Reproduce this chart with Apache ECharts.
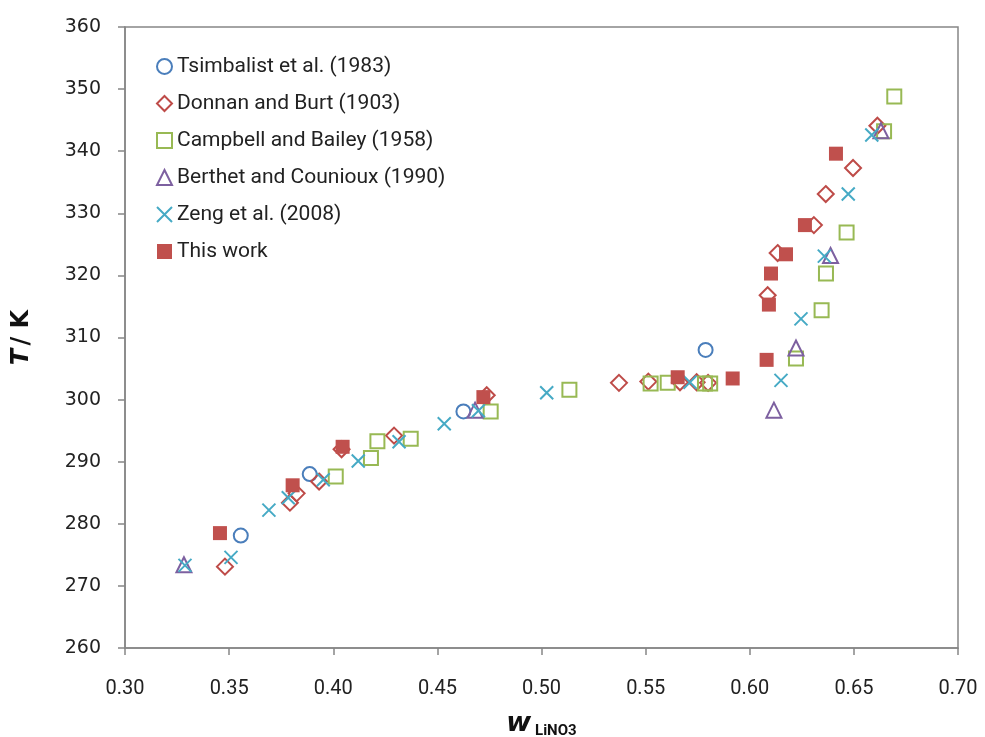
<!DOCTYPE html>
<html>
<head>
<meta charset="utf-8">
<script src="https://cdn.jsdelivr.net/npm/echarts@6/dist/echarts.min.js"></script>
<style>
  html, body { margin: 0; padding: 0; background: #fff; }
  #chart { width: 985px; height: 737px; }
</style>
</head>
<body>
<div id="chart"></div>
<script>
// w(LiNO3), T/K pairs
var tsimbalist = [[0.3556, 278.1], [0.3887, 288.0], [0.4625, 298.1], [0.5788, 308.0]];
var donnan = [[0.348, 273.1], [0.3792, 283.4], [0.3824, 284.9], [0.3932, 286.8], [0.4040, 292.0],
  [0.4292, 294.2], [0.4737, 300.7], [0.5372, 302.7], [0.5513, 302.9], [0.5665, 302.8],
  [0.5745, 302.8], [0.5800, 302.7], [0.6086, 316.8], [0.6134, 323.6], [0.6308, 328.1],
  [0.6365, 333.1], [0.6496, 337.3], [0.6613, 344.1]];
var campbell = [[0.4012, 287.6], [0.4181, 290.6], [0.4212, 293.3], [0.4372, 293.7], [0.4756, 298.1],
  [0.5134, 301.6], [0.5524, 302.6], [0.5606, 302.7], [0.5785, 302.6], [0.5810, 302.6],
  [0.6222, 306.6], [0.6345, 314.4], [0.6366, 320.3], [0.6465, 326.9], [0.6645, 343.2], [0.6694, 348.8]];
var berthet = [[0.3283, 273.4], [0.4681, 298.3], [0.6116, 298.3], [0.6222, 308.3], [0.6388, 323.2], [0.6630, 343.3]];
var zeng = [[0.3288, 273.3], [0.3509, 274.6], [0.3691, 282.2], [0.3784, 284.2], [0.3952, 287.1],
  [0.4120, 290.1], [0.4316, 293.2], [0.4533, 296.1], [0.4697, 298.2], [0.5025, 301.1],
  [0.5713, 302.8], [0.6150, 303.1], [0.6246, 313.0], [0.6358, 323.1], [0.6473, 333.1], [0.6586, 342.6]];
var thisWork = [[0.3456, 278.5], [0.3805, 286.2], [0.4045, 292.4], [0.4721, 300.4], [0.5654, 303.6],
  [0.5918, 303.4], [0.6081, 306.4], [0.6092, 315.3], [0.6102, 320.3], [0.6174, 323.4],
  [0.6265, 328.1], [0.6414, 339.6]];

var xTicks = { min: 0.30, max: 0.70, step: 0.05 };
var yTicks = { min: 260, max: 360, step: 10 };

var chart = echarts.init(document.getElementById('chart'));
var axisGray = '#868686';
var crossPath = 'path://M0,0L10,10M10,0L0,10';

function hollow(name, data, symbol, color, size) {
  return {
    name: name,
    type: 'scatter',
    data: data,
    symbol: symbol,
    symbolSize: size,
    itemStyle: { color: 'rgba(255,255,255,0)', borderColor: color, borderWidth: 2, opacity: 1 }
  };
}

var option = {
  animation: false,
  grid: {
    left: 125, right: 27, top: 27, bottom: 89,
    outerBoundsMode: 'none',
    show: true, borderColor: axisGray, borderWidth: 1.5, backgroundColor: 'transparent'
  },
  legend: {
    orient: 'vertical',
    left: 151, top: 51,
    itemWidth: 15, itemHeight: 15, itemGap: 16,
    textStyle: { fontFamily: 'Roboto', fontSize: 21, color: '#222' },
    data: ['Tsimbalist et al. (1983)', 'Donnan and Burt (1903)', 'Campbell and Bailey (1958)',
      'Berthet and Counioux (1990)', 'Zeng et al. (2008)', 'This work']
  },
  xAxis: {
    type: 'value',
    min: xTicks.min, max: xTicks.max, interval: xTicks.step,
    splitLine: { show: false },
    axisLine: { onZero: false, lineStyle: { color: axisGray, width: 1.5 } },
    axisTick: { length: 7, lineStyle: { color: axisGray, width: 1.5 } },
    axisLabel: {
      margin: 31, fontSize: 20, color: '#222', fontFamily: 'Liberation Sans Narrow, Roboto',
      formatter: function (v) { return v.toFixed(2); }
    },
    name: '{w|w}{s| LiNO3}',
    nameLocation: 'middle',
    nameGap: 60,
    nameTextStyle: {
      rich: {
        w: { fontSize: 27, fontWeight: 'bold', fontStyle: 'italic', color: '#111', fontFamily: 'DejaVu Sans' },
        s: { fontSize: 15, fontWeight: 'bold', color: '#111', fontFamily: 'Roboto', padding: [16, 0, 0, 0] }
      }
    }
  },
  yAxis: {
    type: 'value',
    min: yTicks.min, max: yTicks.max, interval: yTicks.step,
    splitLine: { show: false },
    axisLine: { lineStyle: { color: axisGray, width: 1.5 } },
    axisTick: { show: true, length: 7, lineStyle: { color: axisGray, width: 1.5 } },
    axisLabel: { margin: 24, fontSize: 19, color: '#222', fontFamily: 'DejaVu Sans' },
    name: '{t|T} {k|/ K}',
    nameLocation: 'middle',
    nameGap: 91,
    nameRotate: 90,
    nameTextStyle: {
      rich: {
        t: { fontSize: 24, fontWeight: 'bold', fontStyle: 'italic', color: '#111', fontFamily: 'DejaVu Sans' },
        k: { fontSize: 24, fontWeight: 'bold', color: '#111', fontFamily: 'DejaVu Sans' }
      }
    }
  },
  series: [
    hollow('Tsimbalist et al. (1983)', tsimbalist, 'circle', '#4A7EBB', 14),
    hollow('Donnan and Burt (1903)', donnan, 'diamond', '#BE4B48', 16),
    hollow('Campbell and Bailey (1958)', campbell, 'rect', '#98B954', 14),
    hollow('Berthet and Counioux (1990)', berthet, 'triangle', '#7D60A0', 15),
    hollow('Zeng et al. (2008)', zeng, crossPath, '#46AAC5', 13),
    {
      name: 'This work',
      type: 'scatter',
      data: thisWork,
      symbol: 'rect',
      symbolSize: 14,
      itemStyle: { color: '#C0504D', opacity: 1 }
    }
  ]
};

chart.setOption(option);
</script>
</body>
</html>
